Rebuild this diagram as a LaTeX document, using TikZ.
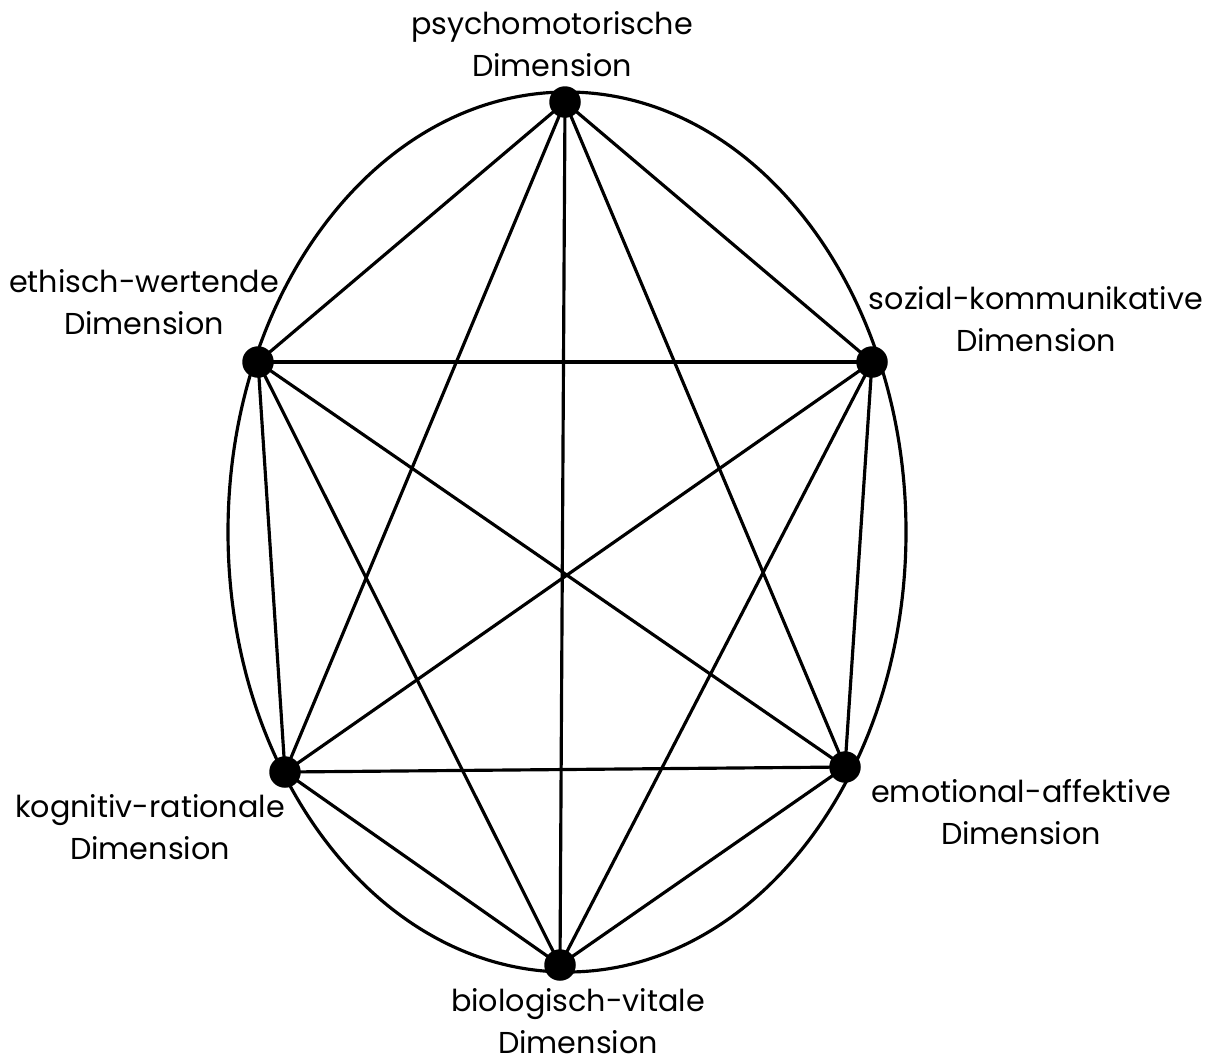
\documentclass[tikz,border=0pt]{standalone}
\usepackage{fontspec}
\setmainfont{Poppins}
\begin{document}
\begin{tikzpicture}[x=0.02cm,y=-0.02cm,
  edge/.style={line width=1.8pt},
  dot/.style={circle,fill=black,inner sep=0pt,minimum size=0.63cm},
  lbl/.style={align=center,font=\fontsize{17.2}{23.5}\selectfont,inner sep=0pt}]
\useasboundingbox (0,0) rectangle (1209,1063);
\draw[edge] (567,532) ellipse [x radius=339, y radius=440];
\node[dot] (p) at (565,102) {};
\node[dot] (e) at (258,362) {};
\node[dot] (s) at (872,362) {};
\node[dot] (k) at (285,772) {};
\node[dot] (m) at (845,767) {};
\node[dot] (b) at (560,965) {};
\foreach \a/\b in {p/e,p/s,p/k,p/m,p/b,e/s,e/k,e/m,e/b,s/k,s/m,s/b,k/m,k/b,m/b}
  \draw[edge] (\a.center) -- (\b.center);
\node[lbl] (lp) at (552,44) {psychomotorische\\Dimension};
\node[lbl] (le) at (144,302) {ethisch-wertende\\Dimension};
\node[lbl] (ls) at (1036,319) {sozial-kommunikative\\Dimension};
\node[lbl] (lm) at (1021,812) {emotional-affektive\\Dimension};
\node[lbl] (lk) at (150,827) {kognitiv-rationale\\Dimension};
\node[lbl] (lb) at (578,1021) {biologisch-vitale\\Dimension};
\end{tikzpicture}
\end{document}
